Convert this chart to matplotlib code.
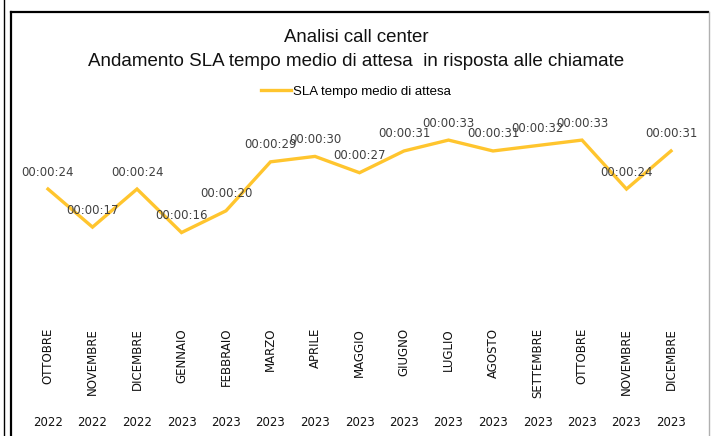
import matplotlib
matplotlib.use("Agg")
import matplotlib.pyplot as plt
import matplotlib.transforms as mtransforms
from matplotlib.lines import Line2D

months = ["OTTOBRE", "NOVEMBRE", "DICEMBRE", "GENNAIO", "FEBBRAIO", "MARZO",
          "APRILE", "MAGGIO", "GIUGNO", "LUGLIO", "AGOSTO", "SETTEMBRE",
          "OTTOBRE", "NOVEMBRE", "DICEMBRE"]
years = ["2022", "2022", "2022", "2023", "2023", "2023", "2023", "2023",
         "2023", "2023", "2023", "2023", "2023", "2023", "2023"]
seconds = [24, 17, 24, 16, 20, 29, 30, 27, 31, 33, 31, 32, 33, 24, 31]

W, H = 712, 436
fig = plt.figure(figsize=(W / 100, H / 100), dpi=100)
fig.patch.set_facecolor("white")

ax = fig.add_axes([25.75 / W, 1 - 319.6 / H, (693.25 - 25.75) / W, (319.6 - 102) / H])
ax.set_xlim(-0.5, len(months) - 0.5)
ax.set_ylim(0, 40)
for s in ax.spines.values():
    s.set_visible(False)
ax.tick_params(axis="both", length=0)
ax.set_yticks([])

x = list(range(len(months)))
line, = ax.plot(x, seconds, color="#FFC52E", lw=2.4, solid_joinstyle="miter",
                label="SLA tempo medio di attesa")

for xi, v in zip(x, seconds):
    ax.annotate(f"00:00:{v:02d}", (xi, v), xytext=(0, 17), textcoords="offset pixels",
                ha="center", va="center", fontsize=8.5, color="#404040",
                family="DejaVu Sans")

ax.set_xticks(x)
ax.set_xticklabels(months, rotation=90, fontsize=8.5, family="DejaVu Sans",
                   color="#111111", va="top", ha="center")
ax.tick_params(axis="x", pad=6)

trans = mtransforms.blended_transform_factory(ax.transData, fig.transFigure)
for xi, yr in zip(x, years):
    ax.text(xi, 1 - 422 / H, yr, transform=trans, ha="center", va="center",
            fontsize=8.5, color="#111111", family="DejaVu Sans")

fig.text(0.5, 1 - 38 / H, "Analisi call center", ha="center", va="center",
         fontsize=13.4, color="#111111", family="Liberation Sans")
fig.text(0.5, 1 - 62 / H, "Andamento SLA tempo medio di attesa  in risposta alle chiamate",
         ha="center", va="center", fontsize=13.5, color="#111111", family="Liberation Sans")

leg = ax.legend(handles=[line], loc="center", bbox_to_anchor=(0.5, 1 - 92 / H),
                bbox_transform=fig.transFigure, frameon=False,
                handlelength=2.27, handletextpad=0.15,
                prop={"family": "Liberation Sans", "size": 9.5})

# frame lines
fig.add_artist(Line2D([3.5 / W, 3.5 / W], [0, 1], color="black", lw=1))
fig.add_artist(Line2D([10.5 / W, 10.5 / W], [0, 1 - 12 / H], color="black", lw=1.6))
fig.add_artist(Line2D([10.5 / W, 708 / W], [1 - 12.5 / H, 1 - 12.5 / H], color="black", lw=1.6))
fig.add_artist(Line2D([708.5 / W, 708.5 / W], [0, 1 - 12 / H], color="#b0b0b0", lw=1))

fig.savefig("out.png", dpi=100)
